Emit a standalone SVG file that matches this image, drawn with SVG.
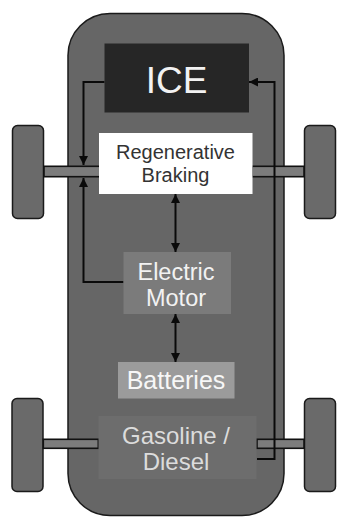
<svg xmlns="http://www.w3.org/2000/svg" width="338" height="518" viewBox="0 0 338 518">
<defs>
<style>
.wheel{fill:#6a6a6a;stroke:#1a1a1a;stroke-width:1.5}
.axle{fill:#7c7c7c;stroke:#111;stroke-width:1.6}
.conn{fill:none;stroke:#0a0a0a;stroke-width:2}
.t{font-family:"Liberation Sans",Arial,sans-serif;text-anchor:middle}
</style>
<marker id="ah" viewBox="0 0 10 10" refX="10" refY="5" markerWidth="5" markerHeight="4.5" orient="auto-start-reverse" markerUnits="strokeWidth">
<path d="M0,0 L10,5 L0,10 z" fill="#0a0a0a"/>
</marker>
</defs>
<rect width="338" height="518" fill="#ffffff"/>
<g id="wheels">
<rect class="wheel" x="12.5" y="125.5" width="31" height="93" rx="5"/>
<rect class="wheel" x="304.5" y="125.5" width="31" height="93" rx="5"/>
<rect class="wheel" x="12" y="398.5" width="31" height="93" rx="5"/>
<rect class="wheel" x="304.5" y="398.5" width="31" height="93" rx="5"/>
</g>
<g id="body">
<rect x="68" y="13.5" width="216" height="502" rx="42" fill="#666666" stroke="#1a1a1a" stroke-width="1.5"/>
</g>
<g id="axles">
<rect class="axle" x="44" y="166.3" width="56" height="10.4"/>
<rect class="axle" x="252" y="166.3" width="52" height="10.4"/>
<rect class="axle" x="43.3" y="439.3" width="55" height="9"/>
<rect class="axle" x="257" y="439.3" width="47" height="9"/>
</g>
<g id="connectors">
<polyline class="conn" points="104.5,82 83.5,82 83.5,165" marker-end="url(#ah)"/>
<polyline class="conn" points="123.5,282 83.5,282 83.5,178" marker-end="url(#ah)"/>
<polyline class="conn" points="257,459 274.5,459 274.5,82 249,82" marker-end="url(#ah)"/>
<line class="conn" x1="175.5" y1="194" x2="175.5" y2="252" marker-start="url(#ah)" marker-end="url(#ah)"/>
<line class="conn" x1="175.5" y1="314" x2="175.5" y2="362" marker-start="url(#ah)" marker-end="url(#ah)"/>
</g>
<g id="ice">
<rect x="104.5" y="43.5" width="144.5" height="69" fill="#262626"/>
<text class="t" x="176.5" y="93" font-size="37" fill="#f2f2f2">ICE</text>
</g>
<g id="regen">
<rect x="99" y="133" width="153.5" height="61" fill="#ffffff"/>
<text class="t" x="175.5" y="159" font-size="20" fill="#333333">Regenerative</text>
<text class="t" x="175.5" y="182" font-size="20" fill="#333333">Braking</text>
</g>
<g id="motor">
<rect x="123.5" y="252" width="107.5" height="62" fill="#7b7b7b"/>
<text class="t" x="176" y="280" font-size="23.5" fill="#f2f2f2">Electric</text>
<text class="t" x="176" y="305.5" font-size="23.5" fill="#f2f2f2">Motor</text>
</g>
<g id="batteries">
<rect x="118" y="362" width="116.5" height="36.5" fill="#9b9b9b"/>
<text class="t" x="176" y="389" font-size="25" fill="#f7f7f7">Batteries</text>
</g>
<g id="fuel">
<rect x="98.5" y="416" width="158" height="63" fill="#6d6d6d"/>
<text class="t" x="176" y="444" font-size="24" fill="#dcdcdc">Gasoline /</text>
<text class="t" x="176" y="470" font-size="24" fill="#dcdcdc">Diesel</text>
</g>
</svg>
